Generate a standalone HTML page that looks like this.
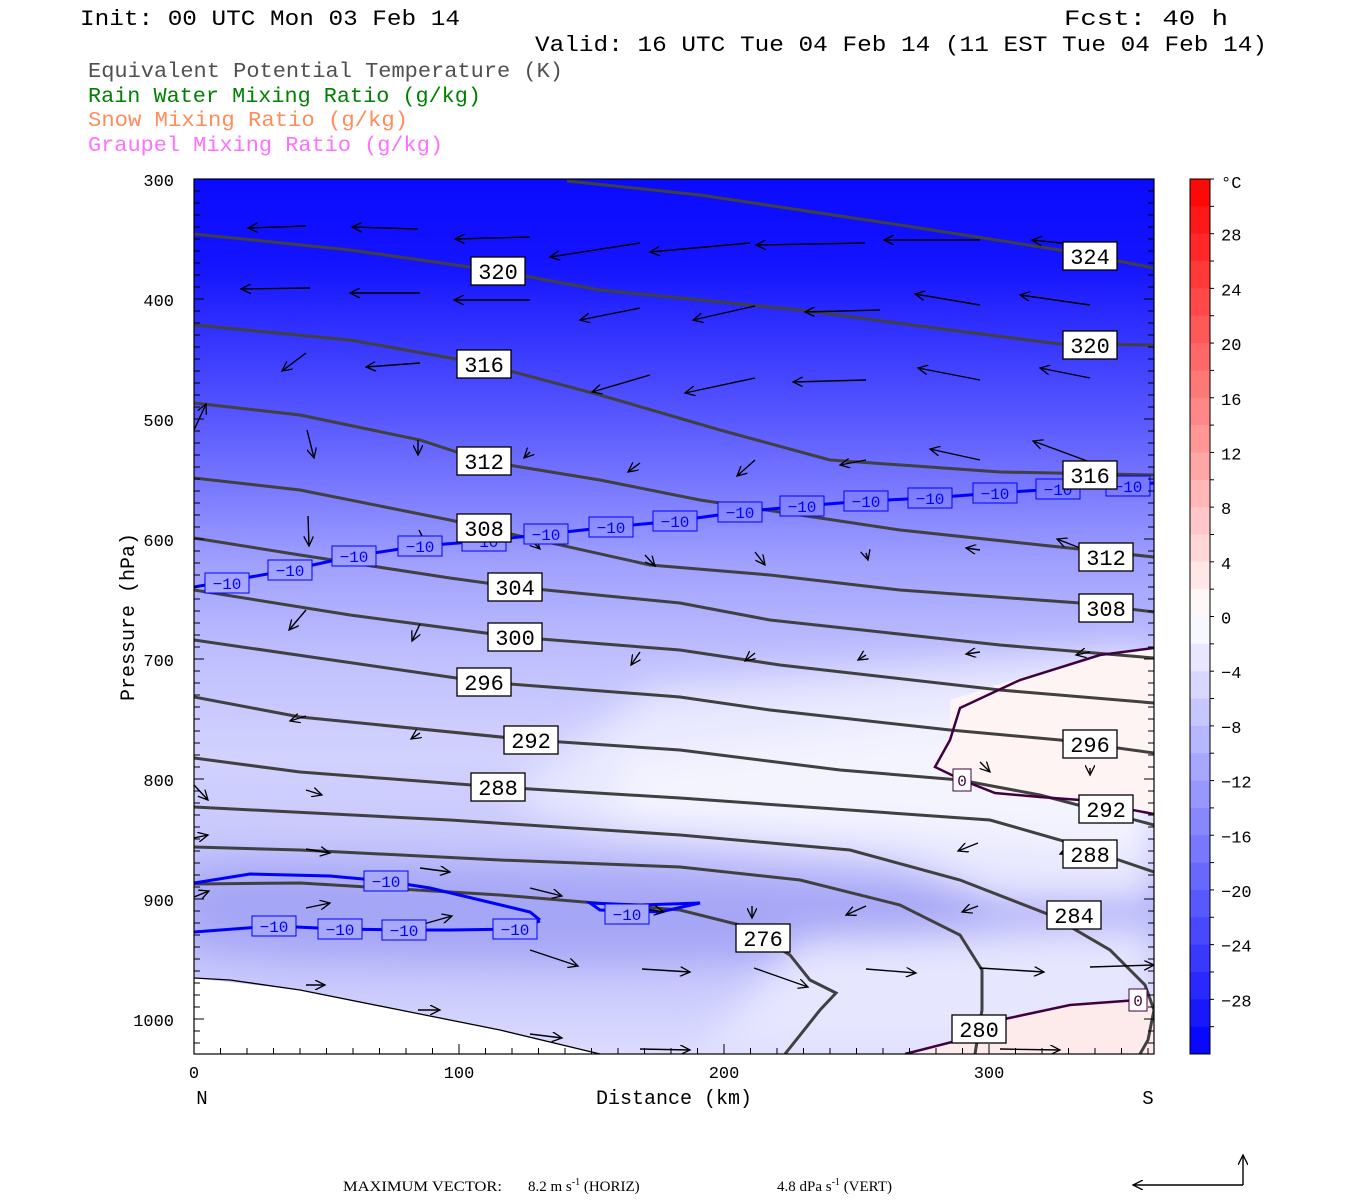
<!DOCTYPE html>
<html><head><meta charset="utf-8"><style>
html,body{margin:0;padding:0;background:#fff;}
body{width:1350px;height:1200px;overflow:hidden;position:relative;}
svg{position:absolute;left:0;top:0;}
</style></head><body>
<svg id="s" width="1350" height="1200" viewBox="0 0 1350 1200" font-family="Liberation Mono, monospace">
<defs>
<linearGradient id="bg" gradientUnits="userSpaceOnUse" x1="0" y1="179" x2="0" y2="1054">
<stop offset="0" stop-color="#0a0aff"/>
<stop offset="0.1" stop-color="#1414ff"/>
<stop offset="0.16" stop-color="#2c2cff"/>
<stop offset="0.27" stop-color="#5656ff"/>
<stop offset="0.36" stop-color="#7c7cff"/>
<stop offset="0.44" stop-color="#a0a0ff"/>
<stop offset="0.55" stop-color="#c0c0ff"/>
<stop offset="0.66" stop-color="#d2d2ff"/>
<stop offset="0.75" stop-color="#c8c8fc"/>
<stop offset="0.83" stop-color="#acacf8"/>
<stop offset="0.9" stop-color="#c4c4fc"/>
<stop offset="1" stop-color="#dcdcff"/>
</linearGradient>
<filter id="bl" x="-20%" y="-20%" width="140%" height="140%"><feGaussianBlur stdDeviation="18"/></filter>
<clipPath id="cp"><rect x="194" y="179" width="960" height="875"/></clipPath>
<marker id="ah" markerWidth="12" markerHeight="10" refX="10" refY="5" orient="auto" markerUnits="userSpaceOnUse"><path d="M0,0 L10,5 L0,10" fill="none" stroke="#000" stroke-width="1.3"/></marker>
</defs>
<g clip-path="url(#cp)">
<rect x="194" y="179" width="960" height="875" fill="url(#bg)"/>
<g filter="url(#bl)">
<path d="M650,690 L1154,650 L1154,900 L1000,900 L900,860 L600,830 L500,800 Z" fill="#e8e8ff"/>
<path d="M620,760 L950,720 L1154,700 L1154,850 L900,830 L620,820 Z" fill="#f4f4ff"/>
<path d="M250,870 L600,880 L900,900 L1020,920 L900,950 L600,960 L300,955 L194,940 L194,880 Z" fill="#a6a6f6"/>
<path d="M800,940 L1154,930 L1154,1054 L700,1054 Z" fill="#e6e6ff"/>
</g>
<path d="M950,700 L1020,678 L1100,655 L1154,648 L1154,814 L1080,800 L1000,793 L962,780 L935,767 L950,740 Z" fill="#fff4f4"/>
<path d="M905,1054 L960,1040 L1000,1020 L1070,1005 L1154,998 L1154,1054 Z" fill="#fdeaea"/>
<path d="M194,978 L300,990 L400,1010 L500,1030 L600,1054 L194,1054 Z" fill="#fff"/>
<path d="M194,978 L230,980 L300,990 L400,1010 L500,1030 L600,1054" fill="none" stroke="#000" stroke-width="1.3"/>
<g fill="none" stroke="#404040" stroke-width="3">
<path d="M567,181 L700,195 L900,225 L1060,250 L1154,268"/>
<path d="M194,234 L350,250 L498,271 L600,290 L800,310 L950,330 L1060,344 L1154,345"/>
<path d="M194,325 L350,340 L484,364 L600,395 L720,430 L830,460 L1000,472 L1154,475"/>
<path d="M194,403 L300,415 L420,440 L484,461 L600,480 L700,500 L900,530 L1154,557"/>
<path d="M194,478 L300,490 L450,520 L484,528 L650,565 L770,575 L900,590 L1080,603 L1154,612"/>
<path d="M194,538 L300,555 L450,578 L515,587 L680,603 L770,620 L1000,645 L1154,658"/>
<path d="M194,590 L350,615 L515,637 L680,650 L780,665 L1000,690 L1154,703"/>
<path d="M194,640 L484,682 L680,697 L770,710 L950,730 L1060,740 L1154,753"/>
<path d="M194,697 L300,717 L531,740 L680,750 L840,770 L960,780 L1040,795 L1154,825"/>
<path d="M194,758 L300,772 L498,787 L680,798 L990,820 L1060,840 L1154,872"/>
<path d="M194,807 L450,820 L680,835 L850,850 L960,880 L1050,915 L1110,950 L1145,985 L1154,1010 L1148,1040 L1140,1054"/>
<path d="M194,847 L300,850 L500,860 L680,867 L800,880 L900,905 L960,935 L982,970 L982,1010 L975,1054"/>
<path d="M194,884 L300,883 L500,895 L680,910 L740,925 L790,955 L810,980 L836,993 L820,1010 L785,1054"/>
</g>
<g fill="none" stroke="#0000ff" stroke-width="3">
<path d="M194,587 L290,570 L354,556 L420,546 L484,541 L546,534 L611,527 L675,521 L740,512 L802,506 L866,501 L930,498 L995,493 L1058,489 L1128,486 L1154,483"/>
<path d="M194,883 L250,874 L330,876 L385,881 L430,888 L480,900 L530,912 L540,920"/>
<path d="M194,932 L274,926 L340,929 L404,930 L450,930 L515,929 L540,921"/>
<path d="M590,903 L640,905 L700,903 L660,912 L600,910 Z"/>
</g>
<g fill="none" stroke="#400040" stroke-width="2.5">
<path d="M1154,648 L1100,655 L1020,680 L960,708 L950,740 L935,767 L962,780 L995,793 L1040,797 L1080,800 L1154,814"/>
<path d="M905,1054 L960,1040 L1000,1020 L1070,1005 L1138,1000"/>
</g>
<g id="arrows" stroke="#000" stroke-width="1.4" fill="none"></g>
</g>
<g id="labels" font-size="22" text-anchor="middle"></g>
<rect x="194" y="179" width="960" height="875" fill="none" stroke="#000" stroke-width="1.2"/>
<g id="ticks" stroke="#000" stroke-width="1"></g>
<g id="cb"></g>
<g font-size="22" fill="#000">
<text x="80" y="25" textLength="380" lengthAdjust="spacingAndGlyphs">Init: 00 UTC Mon 03 Feb 14</text>
<text x="1064" y="25" textLength="164" lengthAdjust="spacingAndGlyphs">Fcst:  40 h</text>
<text x="535" y="51" textLength="732" lengthAdjust="spacingAndGlyphs">Valid: 16 UTC Tue 04 Feb 14 (11 EST Tue 04 Feb 14)</text>
</g>
<g font-size="21.5">
<text x="88" y="77" fill="#505050" textLength="475" lengthAdjust="spacingAndGlyphs">Equivalent Potential Temperature (K)</text>
<text x="88" y="102" fill="#008000" textLength="393" lengthAdjust="spacingAndGlyphs">Rain Water Mixing Ratio (g/kg)</text>
<text x="88" y="126" fill="#ff8c5a" textLength="320" lengthAdjust="spacingAndGlyphs">Snow Mixing Ratio (g/kg)</text>
<text x="88" y="151" fill="#ff70ff" textLength="355" lengthAdjust="spacingAndGlyphs">Graupel Mixing Ratio (g/kg)</text>
</g>
<g font-size="17" text-anchor="end" fill="#000">
<text x="174" y="186">300</text><text x="174" y="306">400</text><text x="174" y="426">500</text><text x="174" y="546">600</text><text x="174" y="666">700</text><text x="174" y="786">800</text><text x="174" y="906">900</text><text x="174" y="1026">1000</text>
</g>
<g font-size="17" text-anchor="middle">
<text x="194" y="1078">0</text><text x="459" y="1078">100</text><text x="724" y="1078">200</text><text x="989" y="1078">300</text>
<text x="202" y="1104" font-size="19">N</text><text x="1148" y="1104" font-size="19">S</text>
<text x="674" y="1104" font-size="20">Distance (km)</text>
</g>
<text transform="translate(134,617) rotate(-90)" font-size="20" text-anchor="middle">Pressure (hPa)</text>
<g font-family="Liberation Serif, serif" font-size="15">
<text x="343" y="1191" textLength="159" lengthAdjust="spacingAndGlyphs">MAXIMUM VECTOR:</text>
<text x="528" y="1191">8.2 m s<tspan dy="-6" font-size="10">-1</tspan><tspan dy="6"> (HORIZ)</tspan></text>
<text x="777" y="1191">4.8 dPa s<tspan dy="-6" font-size="10">-1</tspan><tspan dy="6"> (VERT)</tspan></text>
</g>
<path d="M1243,1185 L1133,1185" stroke="#000" stroke-width="1.4" marker-end="url(#ah)"/>
<path d="M1243,1185 L1243,1155" stroke="#000" stroke-width="1.4" marker-end="url(#ah)"/>
</svg>
<script>
var NS="http://www.w3.org/2000/svg";
function el(t,a,p,txt){var e=document.createElementNS(NS,t);for(var k in a)e.setAttribute(k,a[k]);if(txt!=null)e.textContent=txt;p.appendChild(e);return e;}
var A=[[306,226,248,228],[418,229,352,227],[530,237,455,239],[640,243,550,257],[750,243,650,252],[865,243,756,245],[980,240,884,240],[1090,246,1032,240],
[310,288,241,289],[420,293,350,293],[530,300,454,300],[640,308,580,320],[755,306,693,320],[880,310,805,312],[980,305,915,294],[1090,305,1020,295],
[306,353,282,371],[420,363,366,367],[505,375,460,372],[650,375,592,392],[755,378,685,393],[866,380,793,382],[980,380,918,368],[1090,378,1040,368],
[194,430,206,404],[307,430,314,458],[418,440,418,455],[530,452,524,458],[640,463,628,472],[755,460,737,476],[866,460,840,465],[980,460,930,449],[1090,462,1033,441],
[308,516,309,546],[419,530,428,548],[529,538,540,549],[645,555,655,566],[755,552,765,565],[866,553,868,560],[980,550,966,548],[1098,555,1057,539],
[306,610,289,630],[420,624,412,641],[640,652,631,665],[755,653,745,661],[866,655,858,660],[980,652,966,654],[1090,652,1076,655],
[306,716,290,721],[420,733,411,739],[194,785,208,800],[306,790,322,795],[980,762,990,772],[1090,768,1090,775],
[194,838,208,835],[306,849,330,853],[420,868,450,872],[530,888,562,896],[978,843,958,851],[1090,841,1060,854],
[194,897,209,891],[306,908,330,903],[420,925,452,916],[640,908,664,912],[752,906,752,918],[866,906,846,915],[978,906,962,912],[1090,905,1056,915],
[530,950,578,966],[642,969,690,972],[754,968,808,987],[866,969,916,973],[980,968,1044,972],[1090,967,1154,965],
[306,985,325,985],[418,1010,440,1010],[530,1034,562,1038],[640,1049,690,1050],[1000,1049,1060,1050]];
var g=document.getElementById('arrows');
A.forEach(function(a){el('line',{x1:a[0],y1:a[1],x2:a[2],y2:a[3],'marker-end':'url(#ah)'},g);});
var L=document.getElementById('labels');
var B=[[227,583],[290,570],[354,556],[420,546],[484,541],[546,534],[611,527],[675,521],[740,512],[802,506],[866,501],[930,498],[995,493],[1058,489],[1128,486],[386,881],[274,926],[340,929],[404,930],[515,929],[627,914]];
B.forEach(function(b){var s=L;var f=(b[1]>850)?'#a8a8f8':'url(#bg)';el('rect',{x:b[0]-22,y:b[1]-10,width:44,height:20,fill:f,stroke:'#0000ff','stroke-width':1},s);el('text',{x:b[0],y:b[1]+6,fill:'#0000ff','font-size':16},s,'\u221210');});
[[962,780],[1138,1000]].forEach(function(b){el('rect',{x:b[0]-9,y:b[1]-11,width:18,height:22,fill:'#fff',stroke:'#400040','stroke-width':1},L);el('text',{x:b[0],y:b[1]+6,fill:'#400040','font-size':16},L,'0');});
function lab(x,y,t,c,w){el('rect',{x:x-w/2,y:y-14,width:w,height:28,fill:'#fff',stroke:c,'stroke-width':1.3},L);el('text',{x:x,y:y+8,fill:c},L,t);}
[[498,271,'320'],[1090,256,'324'],[484,364,'316'],[1090,345,'320'],[484,461,'312'],[1090,475,'316'],[484,528,'308'],[1106,557,'312'],[515,587,'304'],[1106,608,'308'],[515,637,'300'],[484,682,'296'],[1090,744,'296'],[531,740,'292'],[1106,809,'292'],[498,787,'288'],[1090,854,'288'],[1074,915,'284'],[763,938,'276'],[979,1029,'280']].forEach(function(l){lab(l[0],l[1],l[2],'#000',54);});
var T=document.getElementById('ticks');
for(var p=300;p<=1020;p+=10){var y=179+(p-300)*1.2;var w=(p%100==0)?10:6;el('line',{x1:194,y1:y,x2:194+w,y2:y},T);el('line',{x1:1154,y1:y,x2:1154-w,y2:y},T);}
for(var d=0;d<=360;d+=10){var x=194+d*2.65;var h=(d%100==0)?10:6;el('line',{x1:x,y1:1054,x2:x,y2:1054-h},T);}
var C=document.getElementById('cb');var bh=875/32;
for(var i=0;i<32;i++){var v=31-2*i;var r,gg,b;if(v>0){var f=v/32;r=255;gg=Math.round(255*(1-f));b=gg;}else{var f=-v/32;r=Math.round(255*(1-f));gg=r;b=255;}
el('rect',{x:1190,y:179+i*bh,width:20,height:bh+0.5,fill:'rgb('+r+','+gg+','+b+')'},C);
el('line',{x1:1210,y1:179+i*bh,x2:1214,y2:179+i*bh,stroke:'#000'},C);}
el('rect',{x:1190,y:179,width:20,height:875,fill:'none',stroke:'#000','stroke-width':1},C);
el('text',{x:1221,y:188,'font-size':17},C,'\u00b0C');
for(var v=28;v>=-28;v-=4){var y=179+(32-v)/64*875;el('text',{x:1221,y:y+7,'font-size':17},C,(v<0?'\u2212':'')+Math.abs(v));}
</script>
</body></html>
